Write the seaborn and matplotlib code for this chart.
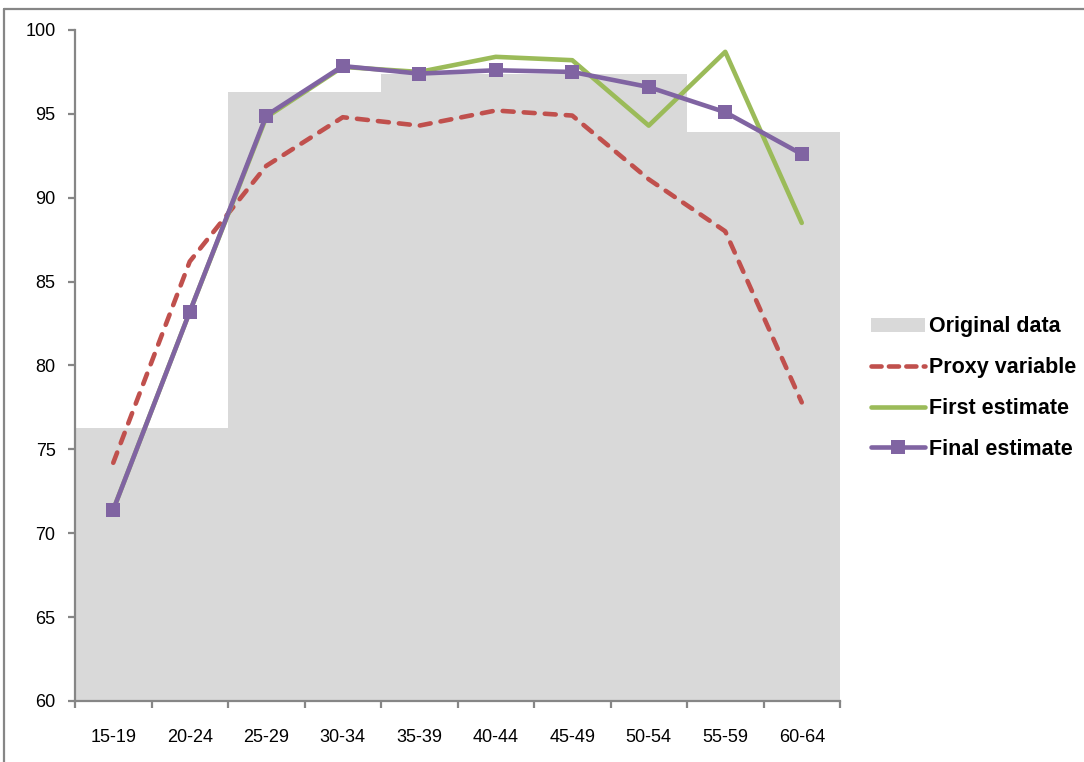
"""
Recreation of an Excel-style age-group chart: original data as grey step bars,
with proxy, first and final estimates drawn on top.
"""
import numpy as np
import pandas as pd
import seaborn as sns
import matplotlib.pyplot as plt
from matplotlib.lines import Line2D
from matplotlib.patches import Patch

AGE_GROUPS = ["15-19", "20-24", "25-29", "30-34", "35-39",
              "40-44", "45-49", "50-54", "55-59", "60-64"]
ORIGINAL_DATA = [76.3, 76.3, 96.3, 96.3, 97.4, 97.4, 97.4, 97.4, 93.9, 93.9]
PROXY_VARIABLE = [74.2, 86.2, 91.9, 94.8, 94.3, 95.2, 94.9, 91.1, 88.0, 77.8]
FIRST_ESTIMATE = [71.4, 83.2, 94.8, 97.8, 97.5, 98.4, 98.2, 94.3, 98.7, 88.5]
FINAL_ESTIMATE = [71.4, 83.2, 94.9, 97.85, 97.4, 97.6, 97.5, 96.6, 95.1, 92.6]
Y_TICKS = [60, 65, 70, 75, 80, 85, 90, 95, 100]

GREY_BAR = "#d9d9d9"
RED = "#c0504d"
GREEN = "#9bbb59"
PURPLE = "#8064a2"
AXIS_GREY = "#868686"

FONT = ["Liberation Sans", "DejaVu Sans"]

sns.set_style("white")
plt.rcParams["font.family"] = FONT
plt.rcParams["text.color"] = "black"

df = pd.DataFrame({
    "age": AGE_GROUPS,
    "pos": np.arange(len(AGE_GROUPS)),
    "original": ORIGINAL_DATA,
    "proxy": PROXY_VARIABLE,
    "first": FIRST_ESTIMATE,
    "final": FINAL_ESTIMATE,
})

fig = plt.figure(figsize=(10.84, 7.62), dpi=100)
ax = fig.add_axes([75 / 1084, 1 - 701 / 762, 765 / 1084, 671 / 762])

# grey bars, no gaps, so neighbouring equal values look like one wide step
sns.barplot(data=df, x="age", y="original", color=GREY_BAR, width=1.0,
            linewidth=0, saturation=1, ax=ax, zorder=1)

sns.lineplot(data=df, x="pos", y="proxy", color=RED, linewidth=3.3,
             ax=ax, zorder=3)
ax.lines[-1].set_dashes((2.4, 2.2))
ax.lines[-1].set_dash_capstyle("round")
sns.lineplot(data=df, x="pos", y="first", color=GREEN, linewidth=3.3,
             ax=ax, zorder=4)
sns.lineplot(data=df, x="pos", y="final", color=PURPLE, linewidth=3.3,
             marker="s", markersize=9.5, markeredgewidth=0, ax=ax, zorder=5)

ax.set_xlim(-0.5, len(AGE_GROUPS) - 0.5)
ax.set_ylim(60, 100)
ax.set_yticks(Y_TICKS)
ax.set_xticks(np.arange(len(AGE_GROUPS)))
ax.set_xticklabels(AGE_GROUPS)
ax.set_xticks(np.arange(len(AGE_GROUPS) + 1) - 0.5, minor=True)
ax.set_xlabel("")
ax.set_ylabel("")

for side in ["top", "right"]:
    ax.spines[side].set_visible(False)
for side in ["left", "bottom"]:
    ax.spines[side].set_color(AXIS_GREY)
    ax.spines[side].set_linewidth(1.6)

ax.tick_params(axis="y", which="major", direction="out", length=5,
               width=1.6, color=AXIS_GREY, labelcolor="black", pad=9,
               left=True, labelsize=13)
ax.tick_params(axis="x", which="major", length=0, pad=20, bottom=True,
               labelcolor="black", labelsize=13)
ax.tick_params(axis="x", which="minor", direction="out", length=5,
               width=1.6, color=AXIS_GREY, bottom=True)

handles = [
    Patch(facecolor=GREY_BAR, edgecolor="none"),
    Line2D([], [], color=RED, linewidth=3.3, dashes=(2.2, 1.6),
           dash_capstyle="round"),
    Line2D([], [], color=GREEN, linewidth=3.3, solid_capstyle="round"),
    Line2D([], [], color=PURPLE, linewidth=3.3, marker="s", markersize=9.5,
           markeredgewidth=0, solid_capstyle="round"),
]
labels = ["Original data", "Proxy variable", "First estimate", "Final estimate"]
fig.legend(handles, labels, loc="center left",
           bbox_to_anchor=(871 / 1084, 1 - 388 / 762),
           frameon=False, borderpad=0, borderaxespad=0,
           handlelength=2.5, handleheight=0.6, handletextpad=0.2,
           labelspacing=0.92,
           prop={"family": FONT, "weight": "bold", "size": 15.5})

# chart-area border (only top and left are inside the crop)
fig.add_artist(Line2D([4 / 1084, 1], [1 - 9 / 762, 1 - 9 / 762],
                      transform=fig.transFigure, color=AXIS_GREY, linewidth=1.6))
fig.add_artist(Line2D([4 / 1084, 4 / 1084], [0, 1 - 9 / 762],
                      transform=fig.transFigure, color=AXIS_GREY, linewidth=1.6))

fig.savefig("out.png", dpi=100)
